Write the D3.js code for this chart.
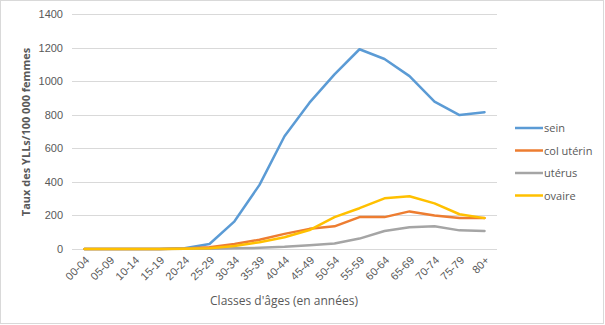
<!DOCTYPE html>
<html>
<head>
<meta charset="utf-8">
<script src="https://cdn.jsdelivr.net/npm/d3@7"></script>
<style>
  body { margin: 0; background: #fff; }
  svg { font-family: "Open Sans", "Noto Sans", sans-serif; }
  .tick text { fill: #595959; font-size: 11px; }
</style>
</head>
<body>
<svg id="myGraph" width="605" height="325"></svg>
<script>
var categories = ["00-04","05-09","10-14","15-19","20-24","25-29","30-34","35-39","40-44","45-49","50-54","55-59","60-64","65-69","70-74","75-79","80+"];
var sein      = [0,0,0,0,5,30,165,382,672,872,1040,1190,1132,1030,878,798,815];
var colUterin = [0,0,0,0,3,10,30,55,90,120,135,190,190,224,200,184,185];
var uterus    = [0,0,0,0,1,2,4,7,13,23,33,62,107,129,135,111,107];
var ovaire    = [0,0,0,0,2,5,18,40,70,113,190,243,302,314,272,207,184];
var yTicks    = [0,200,400,600,800,1000,1200,1400];

var seriesNames  = ["sein","col utérin","utérus","ovaire"];
var seriesValues = [sein, colUterin, uterus, ovaire];
var colors = ["#5b9bd5","#ed7d31","#a5a5a5","#ffc000"];

var svg = d3.select("#myGraph");

// chart border
svg.append("rect")
  .attr("x",0.5).attr("y",0.5).attr("width",603).attr("height",323)
  .attr("fill","#fff").attr("stroke","#d9d9d9");

var x = d3.scalePoint().domain(categories).range([72,497]).padding(0.5);
var y = d3.scaleLinear().domain([0,1400]).range([249,14]);

// gridlines
svg.append("g").selectAll("line")
  .data(yTicks)
  .enter().append("line")
  .attr("x1",72).attr("x2",497)
  .attr("y1",function(d){ return Math.round(y(d))+0.5; })
  .attr("y2",function(d){ return Math.round(y(d))+0.5; })
  .attr("stroke","#d9d9d9");

// y axis labels
var yAxis = d3.axisLeft(y).tickValues(yTicks).tickSize(0).tickPadding(9).tickFormat(d3.format("d"));
svg.append("g").attr("transform","translate(72,0)").call(yAxis)
  .call(function(g){ g.select(".domain").remove(); });

// x axis labels
var xAxis = d3.axisBottom(x).tickSize(0).tickFormat(function(d){ return d; });
var gx = svg.append("g").attr("transform","translate(0,249)").call(xAxis);
gx.select(".domain").remove();
gx.selectAll(".tick text")
  .attr("text-anchor","end")
  .attr("dy",null).attr("y",0)
  .attr("transform","translate(5,12) rotate(-45)");

// lines
var line = d3.line()
  .x(function(d,i){ return x(categories[i]); })
  .y(function(d){ return y(d); });

seriesValues.forEach(function(vals,k){
  svg.append("path")
    .datum(vals)
    .attr("d",line)
    .attr("fill","none")
    .attr("stroke",colors[k])
    .attr("stroke-width",2.5)
    .attr("stroke-linejoin","round")
    .attr("stroke-linecap","round");
});

// axis titles
svg.append("text")
  .attr("transform","translate(30,132) rotate(-90)")
  .attr("text-anchor","middle")
  .attr("font-size","11px").attr("font-weight","bold")
  .attr("fill","#595959")
  .text("Taux des YLLs/100 000 femmes");

svg.append("text")
  .attr("x",284).attr("y",305)
  .attr("text-anchor","middle")
  .attr("font-size","12px")
  .attr("fill","#595959")
  .text("Classes d'âges (en années)");

// legend
var legend = svg.append("g").selectAll("g")
  .data(seriesNames)
  .enter().append("g")
  .attr("transform",function(d,i){ return "translate(515,"+(128+i*22.5)+")"; });
legend.append("line")
  .attr("x1",0).attr("x2",28)
  .attr("stroke",function(d,i){ return colors[i]; })
  .attr("stroke-width",2.5);
legend.append("text")
  .attr("x",29).attr("y",4)
  .attr("font-size","11px")
  .attr("fill","#595959")
  .text(function(d){ return d; });
</script>
</body>
</html>
